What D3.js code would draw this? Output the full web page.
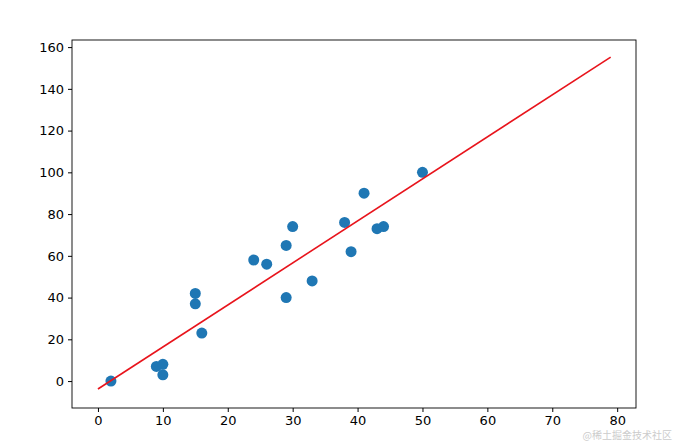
<!DOCTYPE html><html><head><meta charset="utf-8"><script src="https://cdn.jsdelivr.net/npm/d3@7"></script>
<style>body{margin:0;background:#fff}text{font-family:"DejaVu Sans";}</style></head><body><svg width="676" height="441"></svg><script>
const xs=[2,9,10,10,15,15,16,24,26,29,30,29,33,38,39,41,43,44,50];
const ys=[0,7,8,3,42,37,23,58,56,65,74,40,48,76,62,90,73,74,100];
const lineX=[0,79];const intercept=-3.8, slope=2.013;
const xTicks=[0,10,20,30,40,50,60,70,80];const yTicks=[0,20,40,60,80,100,120,140,160];
const svg=d3.select("svg");
const L=72,R=636,T=40,B=408;
const x=d3.scaleLinear().domain([-4,82.9]).range([L,R]);
const y=d3.scaleLinear().domain([-12.9,163.4]).range([B,T]);
svg.append("g").attr("transform",`translate(0,${B})`).call(d3.axisBottom(x).tickValues(xTicks).tickSize(4).tickPadding(4)).call(g=>g.select(".domain").remove());
svg.append("g").attr("transform",`translate(${L},0)`).call(d3.axisLeft(y).tickValues(yTicks).tickSize(4).tickPadding(4)).call(g=>g.select(".domain").remove());
svg.selectAll(".tick text").attr("font-size",13).attr("fill","#000").style("font-family","DejaVu Sans");
svg.append("rect").attr("x",L).attr("y",T).attr("width",R-L).attr("height",B-T).attr("fill","none").attr("stroke","#000").attr("stroke-width",0.9);
svg.selectAll("circle").data(xs).enter().append("circle").attr("cx",d=>x(d)).attr("cy",(d,i)=>y(ys[i])).attr("r",5.5).attr("fill","#1f77b4");
svg.append("path").attr("d",d3.line().x(d=>x(d)).y(d=>y(intercept+slope*d))(lineX)).attr("stroke","#e8141c").attr("stroke-width",1.6).attr("fill","none");
svg.append("text").attr("x",672).attr("y",439).attr("text-anchor","end").attr("font-size",10).attr("fill","#ccc").style("font-family","Noto Sans CJK SC").text("@稀土掘金技术社区");
</script></body></html>
